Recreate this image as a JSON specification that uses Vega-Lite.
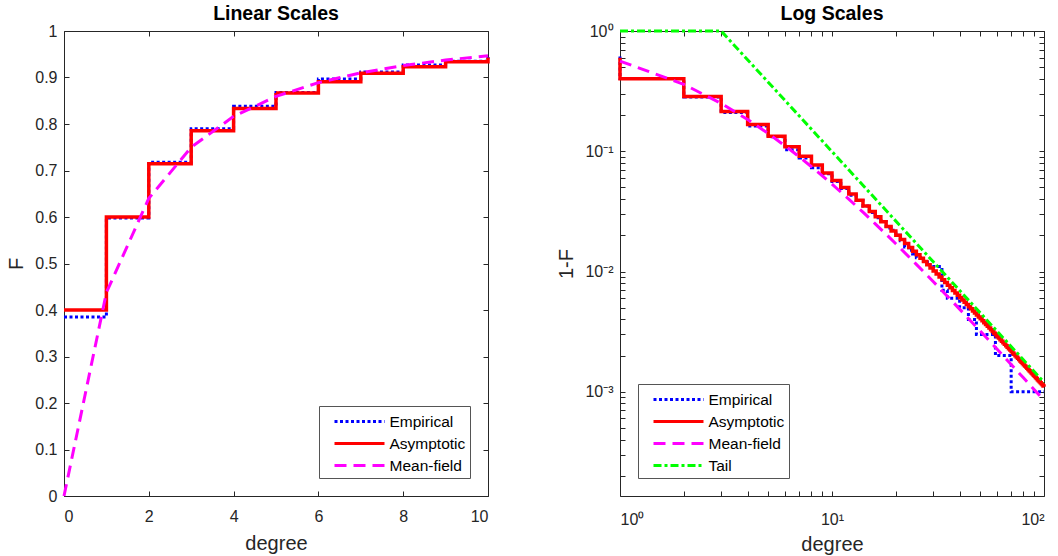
{
  "$schema": "https://vega.github.io/schema/vega-lite/v6.json",
  "background": "white",
  "padding": {"left": 6, "top": 3, "right": 0, "bottom": 0},
  "config": {
    "font": "Liberation Sans",
    "view": {"stroke": "#262626", "strokeWidth": 1},
    "axis": {"domain": false, "grid": false, "tickColor": "#262626", "tickSize": -5, "tickWidth": 1, "labelColor": "#262626", "labelFontSize": 16, "titleColor": "#262626", "titleFontSize": 20, "titleFontWeight": "normal", "labelFont": "Liberation Sans", "titleFont": "Liberation Sans"},
    "axisBottom": {"labelPadding": 17, "titlePadding": 9},
    "axisLeft": {"labelPadding": 12, "titlePadding": 8},
    "title": {"fontSize": 19.5, "fontWeight": "bold", "color": "#000000", "offset": -1, "font": "Liberation Sans"},
    "legend": {"title": null, "labelFontSize": 15.5, "labelColor": "#000000", "labelFont": "Liberation Sans", "strokeColor": "#555555", "fillColor": "white", "padding": 4, "symbolType": "M-2.5,0H2.5", "symbolSize": 400, "symbolStrokeWidth": 3, "symbolOffset": 25, "labelOffset": 18.5, "rowPadding": 2, "offset": 18, "cornerRadius": 0}
  },
  "datasets": {
    "lin": [
      {"series": "Empirical", "k": 0, "F": 0.385}, {"series": "Empirical", "k": 1, "F": 0.598}, {"series": "Empirical", "k": 2, "F": 0.718}, {"series": "Empirical", "k": 3, "F": 0.79}, {"series": "Empirical", "k": 4, "F": 0.838}, {"series": "Empirical", "k": 5, "F": 0.868}, {"series": "Empirical", "k": 6, "F": 0.897}, {"series": "Empirical", "k": 7, "F": 0.912}, {"series": "Empirical", "k": 8, "F": 0.927}, {"series": "Empirical", "k": 9, "F": 0.935}, {"series": "Empirical", "k": 10, "F": 0.944},
      {"series": "Asymptotic", "k": 0, "F": 0.4}, {"series": "Asymptotic", "k": 1, "F": 0.6}, {"series": "Asymptotic", "k": 2, "F": 0.714286}, {"series": "Asymptotic", "k": 3, "F": 0.785714}, {"series": "Asymptotic", "k": 4, "F": 0.833333}, {"series": "Asymptotic", "k": 5, "F": 0.866667}, {"series": "Asymptotic", "k": 6, "F": 0.890909}, {"series": "Asymptotic", "k": 7, "F": 0.909091}, {"series": "Asymptotic", "k": 8, "F": 0.923077}, {"series": "Asymptotic", "k": 9, "F": 0.934066}, {"series": "Asymptotic", "k": 10, "F": 0.942857},
      {"series": "Mean-field", "k": 0, "F": 0}, {"series": "Mean-field", "k": 1, "F": 0.4375}, {"series": "Mean-field", "k": 2, "F": 0.64}, {"series": "Mean-field", "k": 3, "F": 0.75}, {"series": "Mean-field", "k": 4, "F": 0.816327}, {"series": "Mean-field", "k": 5, "F": 0.859375}, {"series": "Mean-field", "k": 6, "F": 0.888889}, {"series": "Mean-field", "k": 7, "F": 0.91}, {"series": "Mean-field", "k": 8, "F": 0.92562}, {"series": "Mean-field", "k": 9, "F": 0.9375}, {"series": "Mean-field", "k": 10, "F": 0.946746}
    ],
    "log": [
      {"series": "Empirical", "k": 1, "S": 0.615}, {"series": "Empirical", "k": 1, "S": 0.402}, {"series": "Empirical", "k": 2, "S": 0.282}, {"series": "Empirical", "k": 3, "S": 0.21}, {"series": "Empirical", "k": 4, "S": 0.162}, {"series": "Empirical", "k": 5, "S": 0.132}, {"series": "Empirical", "k": 6, "S": 0.103}, {"series": "Empirical", "k": 7, "S": 0.088}, {"series": "Empirical", "k": 8, "S": 0.073}, {"series": "Empirical", "k": 9, "S": 0.065}, {"series": "Empirical", "k": 10, "S": 0.056}, {"series": "Empirical", "k": 11, "S": 0.049}, {"series": "Empirical", "k": 12, "S": 0.043}, {"series": "Empirical", "k": 13, "S": 0.039}, {"series": "Empirical", "k": 14, "S": 0.035}, {"series": "Empirical", "k": 15, "S": 0.031}, {"series": "Empirical", "k": 16, "S": 0.028}, {"series": "Empirical", "k": 17, "S": 0.026}, {"series": "Empirical", "k": 18, "S": 0.023}, {"series": "Empirical", "k": 19, "S": 0.022}, {"series": "Empirical", "k": 20, "S": 0.02}, {"series": "Empirical", "k": 21, "S": 0.018}, {"series": "Empirical", "k": 22, "S": 0.016}, {"series": "Empirical", "k": 23, "S": 0.015}, {"series": "Empirical", "k": 24, "S": 0.014}, {"series": "Empirical", "k": 25, "S": 0.013}, {"series": "Empirical", "k": 27, "S": 0.012}, {"series": "Empirical", "k": 29, "S": 0.011}, {"series": "Empirical", "k": 33, "S": 0.007}, {"series": "Empirical", "k": 35, "S": 0.006}, {"series": "Empirical", "k": 40, "S": 0.005}, {"series": "Empirical", "k": 44, "S": 0.004}, {"series": "Empirical", "k": 48, "S": 0.003}, {"series": "Empirical", "k": 59, "S": 0.002}, {"series": "Empirical", "k": 70, "S": 0.001}, {"series": "Empirical", "k": 100, "S": 0.001},
      {"series": "Asymptotic", "k": 1, "S": 0.6}, {"series": "Asymptotic", "k": 1, "S": 0.4}, {"series": "Asymptotic", "k": 2, "S": 0.285714}, {"series": "Asymptotic", "k": 3, "S": 0.214286}, {"series": "Asymptotic", "k": 4, "S": 0.166667}, {"series": "Asymptotic", "k": 5, "S": 0.133333}, {"series": "Asymptotic", "k": 6, "S": 0.109091}, {"series": "Asymptotic", "k": 7, "S": 0.090909}, {"series": "Asymptotic", "k": 8, "S": 0.076923}, {"series": "Asymptotic", "k": 9, "S": 0.065934}, {"series": "Asymptotic", "k": 10, "S": 0.057143},
      {"series": "Asymptotic", "k": 11, "S": 0.05}, {"series": "Asymptotic", "k": 12, "S": 0.044118}, {"series": "Asymptotic", "k": 13, "S": 0.039216}, {"series": "Asymptotic", "k": 14, "S": 0.035088}, {"series": "Asymptotic", "k": 15, "S": 0.031579}, {"series": "Asymptotic", "k": 16, "S": 0.028571}, {"series": "Asymptotic", "k": 17, "S": 0.025974}, {"series": "Asymptotic", "k": 18, "S": 0.023715}, {"series": "Asymptotic", "k": 19, "S": 0.021739}, {"series": "Asymptotic", "k": 20, "S": 0.02},
      {"series": "Asymptotic", "k": 21, "S": 0.018462}, {"series": "Asymptotic", "k": 22, "S": 0.017094}, {"series": "Asymptotic", "k": 23, "S": 0.015873}, {"series": "Asymptotic", "k": 24, "S": 0.014778}, {"series": "Asymptotic", "k": 25, "S": 0.013793}, {"series": "Asymptotic", "k": 26, "S": 0.012903}, {"series": "Asymptotic", "k": 27, "S": 0.012097}, {"series": "Asymptotic", "k": 28, "S": 0.011364}, {"series": "Asymptotic", "k": 29, "S": 0.010695}, {"series": "Asymptotic", "k": 30, "S": 0.010084},
      {"series": "Asymptotic", "k": 31, "S": 0.009524}, {"series": "Asymptotic", "k": 32, "S": 0.009009}, {"series": "Asymptotic", "k": 33, "S": 0.008535}, {"series": "Asymptotic", "k": 34, "S": 0.008097}, {"series": "Asymptotic", "k": 35, "S": 0.007692}, {"series": "Asymptotic", "k": 36, "S": 0.007317}, {"series": "Asymptotic", "k": 37, "S": 0.006969}, {"series": "Asymptotic", "k": 38, "S": 0.006645}, {"series": "Asymptotic", "k": 39, "S": 0.006342}, {"series": "Asymptotic", "k": 40, "S": 0.006061},
      {"series": "Asymptotic", "k": 41, "S": 0.005797}, {"series": "Asymptotic", "k": 42, "S": 0.00555}, {"series": "Asymptotic", "k": 43, "S": 0.005319}, {"series": "Asymptotic", "k": 44, "S": 0.005102}, {"series": "Asymptotic", "k": 45, "S": 0.004898}, {"series": "Asymptotic", "k": 46, "S": 0.004706}, {"series": "Asymptotic", "k": 47, "S": 0.004525}, {"series": "Asymptotic", "k": 48, "S": 0.004354}, {"series": "Asymptotic", "k": 49, "S": 0.004193}, {"series": "Asymptotic", "k": 50, "S": 0.00404},
      {"series": "Asymptotic", "k": 51, "S": 0.003896}, {"series": "Asymptotic", "k": 52, "S": 0.003759}, {"series": "Asymptotic", "k": 53, "S": 0.00363}, {"series": "Asymptotic", "k": 54, "S": 0.003507}, {"series": "Asymptotic", "k": 55, "S": 0.00339}, {"series": "Asymptotic", "k": 56, "S": 0.003279}, {"series": "Asymptotic", "k": 57, "S": 0.003173}, {"series": "Asymptotic", "k": 58, "S": 0.003072}, {"series": "Asymptotic", "k": 59, "S": 0.002976}, {"series": "Asymptotic", "k": 60, "S": 0.002885},
      {"series": "Asymptotic", "k": 61, "S": 0.002797}, {"series": "Asymptotic", "k": 62, "S": 0.002714}, {"series": "Asymptotic", "k": 63, "S": 0.002634}, {"series": "Asymptotic", "k": 64, "S": 0.002558}, {"series": "Asymptotic", "k": 65, "S": 0.002484}, {"series": "Asymptotic", "k": 66, "S": 0.002414}, {"series": "Asymptotic", "k": 67, "S": 0.002347}, {"series": "Asymptotic", "k": 68, "S": 0.002283}, {"series": "Asymptotic", "k": 69, "S": 0.002221}, {"series": "Asymptotic", "k": 70, "S": 0.002162},
      {"series": "Asymptotic", "k": 71, "S": 0.002105}, {"series": "Asymptotic", "k": 72, "S": 0.002051}, {"series": "Asymptotic", "k": 73, "S": 0.001998}, {"series": "Asymptotic", "k": 74, "S": 0.001947}, {"series": "Asymptotic", "k": 75, "S": 0.001899}, {"series": "Asymptotic", "k": 76, "S": 0.001852}, {"series": "Asymptotic", "k": 77, "S": 0.001807}, {"series": "Asymptotic", "k": 78, "S": 0.001763}, {"series": "Asymptotic", "k": 79, "S": 0.001721}, {"series": "Asymptotic", "k": 80, "S": 0.001681},
      {"series": "Asymptotic", "k": 81, "S": 0.001642}, {"series": "Asymptotic", "k": 82, "S": 0.001604}, {"series": "Asymptotic", "k": 83, "S": 0.001567}, {"series": "Asymptotic", "k": 84, "S": 0.001532}, {"series": "Asymptotic", "k": 85, "S": 0.001498}, {"series": "Asymptotic", "k": 86, "S": 0.001465}, {"series": "Asymptotic", "k": 87, "S": 0.001433}, {"series": "Asymptotic", "k": 88, "S": 0.001403}, {"series": "Asymptotic", "k": 89, "S": 0.001373}, {"series": "Asymptotic", "k": 90, "S": 0.001344},
      {"series": "Asymptotic", "k": 91, "S": 0.001316}, {"series": "Asymptotic", "k": 92, "S": 0.001289}, {"series": "Asymptotic", "k": 93, "S": 0.001262}, {"series": "Asymptotic", "k": 94, "S": 0.001237}, {"series": "Asymptotic", "k": 95, "S": 0.001212}, {"series": "Asymptotic", "k": 96, "S": 0.001188}, {"series": "Asymptotic", "k": 97, "S": 0.001165}, {"series": "Asymptotic", "k": 98, "S": 0.001142}, {"series": "Asymptotic", "k": 99, "S": 0.00112}, {"series": "Asymptotic", "k": 100, "S": 0.001099},
      {"series": "Mean-field", "k": 1, "S": 0.5625}, {"series": "Mean-field", "k": 2, "S": 0.36}, {"series": "Mean-field", "k": 3, "S": 0.25}, {"series": "Mean-field", "k": 4, "S": 0.183673}, {"series": "Mean-field", "k": 5, "S": 0.140625}, {"series": "Mean-field", "k": 6, "S": 0.111111}, {"series": "Mean-field", "k": 7, "S": 0.09}, {"series": "Mean-field", "k": 8, "S": 0.07438}, {"series": "Mean-field", "k": 9, "S": 0.0625}, {"series": "Mean-field", "k": 10, "S": 0.053254}, {"series": "Mean-field", "k": 12, "S": 0.04}, {"series": "Mean-field", "k": 14, "S": 0.031142}, {"series": "Mean-field", "k": 16, "S": 0.024931}, {"series": "Mean-field", "k": 18, "S": 0.020408}, {"series": "Mean-field", "k": 20, "S": 0.017013}, {"series": "Mean-field", "k": 25, "S": 0.01148}, {"series": "Mean-field", "k": 30, "S": 0.008264}, {"series": "Mean-field", "k": 35, "S": 0.006233}, {"series": "Mean-field", "k": 40, "S": 0.004867}, {"series": "Mean-field", "k": 50, "S": 0.003204}, {"series": "Mean-field", "k": 60, "S": 0.002268}, {"series": "Mean-field", "k": 70, "S": 0.001689}, {"series": "Mean-field", "k": 80, "S": 0.001306}, {"series": "Mean-field", "k": 90, "S": 0.001041}, {"series": "Mean-field", "k": 100, "S": 0.000848},
      {"series": "Tail", "k": 1, "S": 1}, {"series": "Tail", "k": 3, "S": 1}, {"series": "Tail", "k": 100, "S": 0.0012}
    ]
  },
  "spacing": 60,
  "resolve": {"scale": {"x": "independent", "y": "independent", "color": "independent", "strokeDash": "independent"}},
  "hconcat": [
    {
      "width": 424,
      "height": 465,
      "title": "Linear Scales",
      "data": {"name": "lin"},
      "resolve": {"axis": {"x": "independent", "y": "independent"}},
      "layer": [
        {
          "encoding": {
            "x": {"field": "k", "type": "quantitative", "scale": {"domain": [0, 10], "nice": false}, "axis": {"values": [0, 2, 4, 6, 8, 10], "format": "d", "title": "degree"}},
            "y": {"field": "F", "type": "quantitative", "scale": {"domain": [0, 1], "nice": false, "zero": false}, "axis": {"values": [0, 0.1, 0.2, 0.3, 0.4, 0.5, 0.6, 0.7, 0.8, 0.9, 1], "format": "~g", "title": "F"}},
            "color": {"field": "series", "type": "nominal", "scale": {"domain": ["Empirical", "Asymptotic", "Mean-field"], "range": ["#0000ff", "#ff0000", "#ff00ff"]}, "legend": {"orient": "bottom-right"}},
            "strokeDash": {"field": "series", "type": "nominal", "scale": {"domain": ["Empirical", "Asymptotic", "Mean-field"], "range": [[3, 2.5], [1, 0], [12, 7]]}, "legend": {"orient": "bottom-right"}}
          },
          "layer": [
            {"transform": [{"filter": "datum.series === 'Empirical'"}], "mark": {"type": "line", "interpolate": "step-after", "strokeWidth": 3}},
            {"transform": [{"filter": "datum.series === 'Asymptotic'"}], "mark": {"type": "line", "interpolate": "step-after", "strokeWidth": 3.5}},
            {"transform": [{"filter": "datum.series === 'Mean-field'"}], "mark": {"type": "line", "strokeWidth": 3}}
          ]
        },
        {
          "mark": {"type": "point", "opacity": 0},
          "encoding": {
            "x": {"field": "k", "type": "quantitative", "axis": {"orient": "top", "values": [0, 2, 4, 6, 8, 10], "labels": false, "title": null}},
            "y": {"field": "F", "type": "quantitative", "axis": {"orient": "right", "values": [0, 0.1, 0.2, 0.3, 0.4, 0.5, 0.6, 0.7, 0.8, 0.9, 1], "labels": false, "title": null}}
          }
        }
      ]
    },
    {
      "width": 424,
      "height": 465,
      "title": "Log Scales",
      "data": {"name": "log"},
      "resolve": {"axis": {"x": "independent", "y": "independent"}},
      "layer": [
        {
          "encoding": {
            "x": {"field": "k", "type": "quantitative", "scale": {"type": "log", "domain": [1, 100], "nice": false}, "axis": {"values": [1, 2, 3, 4, 5, 6, 7, 8, 9, 10, 20, 30, 40, 50, 60, 70, 80, 90, 100], "labelExpr": "datum.value === 1 ? '10⁰' : datum.value === 10 ? '10¹' : datum.value === 100 ? '10²' : ''", "title": "degree", "labelPadding": 20, "titlePadding": 7}},
            "y": {"field": "S", "type": "quantitative", "scale": {"type": "log", "domain": [0.000136, 1], "nice": false}, "axis": {"values": [1, 0.9, 0.8, 0.7, 0.6, 0.5, 0.4, 0.3, 0.2, 0.1, 0.09, 0.08, 0.07, 0.06, 0.05, 0.04, 0.03, 0.02, 0.01, 0.009, 0.008, 0.007, 0.006, 0.005, 0.004, 0.003, 0.002, 0.001, 0.0009, 0.0008, 0.0007, 0.0006, 0.0005, 0.0004, 0.0003, 0.0002], "labelExpr": "datum.value === 1 ? '10⁰' : datum.value === 0.1 ? '10⁻¹' : datum.value === 0.01 ? '10⁻²' : datum.value === 0.001 ? '10⁻³' : ''", "title": "1-F"}},
            "color": {"field": "series", "type": "nominal", "scale": {"domain": ["Empirical", "Asymptotic", "Mean-field", "Tail"], "range": ["#0000ff", "#ff0000", "#ff00ff", "#00ff00"]}, "legend": {"orient": "bottom-left"}},
            "strokeDash": {"field": "series", "type": "nominal", "scale": {"domain": ["Empirical", "Asymptotic", "Mean-field", "Tail"], "range": [[3, 2.5], [1, 0], [12, 7], [8, 3, 3, 3]]}, "legend": {"orient": "bottom-left"}},
            "order": [{"field": "k", "type": "quantitative"}, {"field": "S", "type": "quantitative", "sort": "descending"}]
          },
          "layer": [
            {"transform": [{"filter": "datum.series === 'Empirical'"}], "mark": {"type": "line", "interpolate": "step-after", "strokeWidth": 3}},
            {"transform": [{"filter": "datum.series === 'Asymptotic'"}], "mark": {"type": "line", "interpolate": "step-after", "strokeWidth": 3.5}},
            {"transform": [{"filter": "datum.series === 'Mean-field'"}], "mark": {"type": "line", "strokeWidth": 3}},
            {"transform": [{"filter": "datum.series === 'Tail'"}], "mark": {"type": "line", "strokeWidth": 3}}
          ]
        },
        {
          "mark": {"type": "point", "opacity": 0},
          "encoding": {
            "x": {"field": "k", "type": "quantitative", "axis": {"orient": "top", "values": [1, 2, 3, 4, 5, 6, 7, 8, 9, 10, 20, 30, 40, 50, 60, 70, 80, 90, 100], "labels": false, "title": null}},
            "y": {"field": "S", "type": "quantitative", "axis": {"orient": "right", "values": [1, 0.9, 0.8, 0.7, 0.6, 0.5, 0.4, 0.3, 0.2, 0.1, 0.09, 0.08, 0.07, 0.06, 0.05, 0.04, 0.03, 0.02, 0.01, 0.009, 0.008, 0.007, 0.006, 0.005, 0.004, 0.003, 0.002, 0.001, 0.0009, 0.0008, 0.0007, 0.0006, 0.0005, 0.0004, 0.0003, 0.0002], "labels": false, "title": null}}
          }
        }
      ]
    }
  ]
}
